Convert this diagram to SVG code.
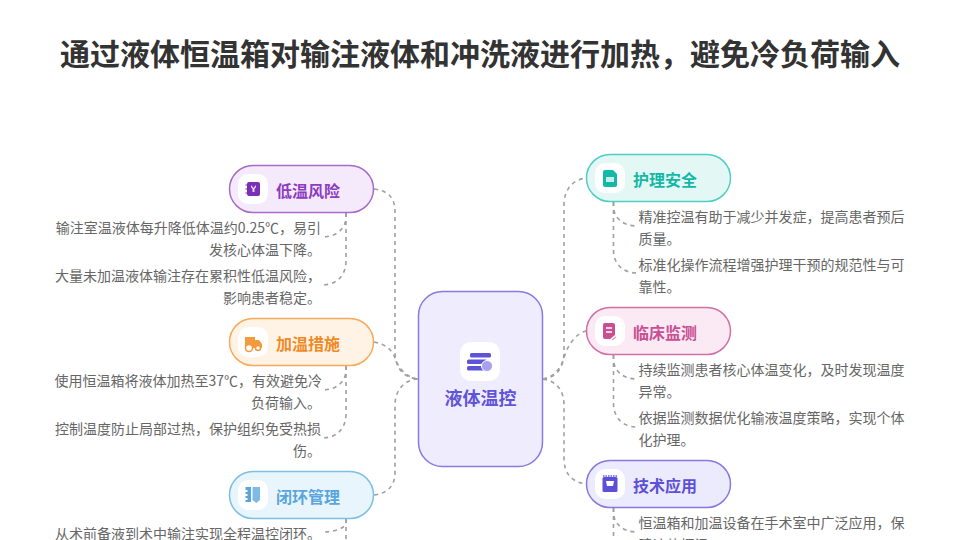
<svg xmlns="http://www.w3.org/2000/svg" width="960" height="540" viewBox="0 0 960 540">
<style>
text{font-family:"Noto Sans CJK SC","Noto Sans",sans-serif}
.title{font-size:30px;font-weight:700;fill:#333;text-anchor:middle}
.lab{font-size:16px;font-weight:700}
.b{font-size:14px;fill:#666}
.l{text-anchor:end}
.box{stroke-width:1.5}
.ic{fill:#fff}
#connectors path{fill:none;stroke:#a0a0a0;stroke-width:1.6;stroke-dasharray:4 4}
</style>
<rect width="960" height="540" fill="#fff"/>
<text class="title" x="480" y="65">通过液体恒温箱对输注液体和冲洗液进行加热，避免冷负荷输入</text>
<g id="connectors">
<path d="M374 189C388 191 395 197 395 212V352C395 368 404 378 418 379"/>
<path d="M374 342C386 344 392 350 395 358C399 370 408 378 418 379"/>
<path d="M374 495C388 493 395 486 395 472V405C395 390 404 380 418 379"/>
<path d="M543 379C556 378 564 368 564 352V205C564 190 572 180 586 178"/>
<path d="M543 379C553 377 560 370 564 358C567 346 576 333 586 331"/>
<path d="M543 379C556 381 564 390 564 405V458C564 474 572 482 586 484"/>
<path d="M346 213V217C346 229 336 237 322 237"/>
<path d="M346 213V261C346 276 336 285 322 285"/>
<path d="M346 366V370C346 382 336 390 322 390"/>
<path d="M346 366V414C346 429 336 438 322 438"/>
<path d="M346 519V522C346 528 336 532 322 532"/>
<path d="M346 519V570"/>
<path d="M613.500 202V206C613.500 218 623 226 637 226"/>
<path d="M613.500 202V250C613.500 264 623 273 637 273"/>
<path d="M613.500 355V359C613.500 371 623 379 637 379"/>
<path d="M613.500 355V403C613.500 418 623 427 637 427"/>
<path d="M613.500 508V512C613.500 524 623 532 637 532"/>
<path d="M613.500 508V570"/>
</g>
<g id="center">
<rect class="box" x="418.500" y="291.500" width="124" height="175" rx="24" fill="#eeecfd" stroke="#8a7be0"/>
<rect class="ic" x="460" y="342" width="40" height="39" rx="11"/>
<g fill="#5f54d8"><rect x="470" y="353" width="21" height="4.500" rx="1.500"/><rect x="467" y="359.500" width="20" height="4.500" rx="1.500"/><rect x="467" y="366" width="20" height="4.500" rx="1.500"/></g>
<circle cx="487" cy="366" r="5.500" fill="#a79ff0" stroke="#fff"/>
<text x="480.500" y="405" text-anchor="middle" font-size="18" font-weight="700" fill="#5f54d8">液体温控</text>
</g>
<g id="n-diwen">
<rect class="box" x="229.500" y="165.500" width="144" height="47" rx="23.500" fill="#f4eafc" stroke="#a66cc8"/>
<rect class="ic" x="238" y="174" width="30" height="30" rx="10"/>
<rect x="247" y="182" width="13" height="14" rx="2" fill="#7b2fb5"/>
<path d="M245.500 185h2M245.500 189h2M245.500 193h2" stroke="#7b2fb5"/>
<path d="M251 185l2.500 3 2.500-3v2l-1.500 2v3h-2v-3l-1.500-2z" fill="#e9d8f5"/>
<text class="lab" x="276" y="197" fill="#8e3bc0">低温风险</text>
<text class="b l" x="321" y="233">输注室温液体每升降低体温约0.25℃，易引</text>
<text class="b l" x="321" y="255">发核心体温下降。</text>
<text class="b l" x="321" y="281">大量未加温液体输注存在累积性低温风险，</text>
<text class="b l" x="321" y="303">影响患者稳定。</text>
</g>
<g id="n-jiawen">
<rect class="box" x="229.500" y="318.500" width="144" height="47" rx="23.500" fill="#fff3e6" stroke="#f5a959"/>
<rect class="ic" x="238" y="327" width="30" height="30" rx="10"/>
<path d="M245 337h10v3h4l3 4v4h-17z" fill="#f39a3c"/>
<circle cx="249" cy="348" r="3.500" fill="#fff" stroke="#f39a3c" stroke-width="1.500"/>
<circle cx="258" cy="348" r="2.500" fill="#fff" stroke="#f39a3c" stroke-width="1.500"/>
<text class="lab" x="276" y="350" fill="#f08a24">加温措施</text>
<text class="b l" x="322" y="386">使用恒温箱将液体加热至37℃，有效避免冷</text>
<text class="b l" x="321" y="408">负荷输入。</text>
<text class="b l" x="321" y="434">控制温度防止局部过热，保护组织免受热损</text>
<text class="b l" x="321" y="456">伤。</text>
</g>
<g id="n-bihuan">
<rect class="box" x="229.500" y="471.500" width="144" height="47" rx="23.500" fill="#e8f5fd" stroke="#7fbfe3"/>
<rect class="ic" x="238" y="480" width="30" height="30" rx="10"/>
<path d="M245.500 487h5.500v15h-5.500v-2h2v-2h-2v-2h2v-2h-2v-2h2v-2h-2z" fill="#5aa5dc"/>
<path d="M252.500 487h7.500v13l-3.700 3-3.800-3z" fill="#7dbbe6"/>
<text class="lab" x="276" y="503" fill="#5aa5dc">闭环管理</text>
<text class="b l" x="321" y="539">从术前备液到术中输注实现全程温控闭环。</text>
</g>
<g id="n-huli">
<rect class="box" x="586.500" y="154.500" width="144" height="47" rx="23.500" fill="#e3f8f5" stroke="#4fcdc4"/>
<rect class="ic" x="595" y="163" width="30" height="30" rx="10"/>
<path d="M605 170h8l4 4v11a2 2 0 0 1-2 2h-10a2 2 0 0 1-2-2v-13a2 2 0 0 1 2-2z" fill="#14b8a6"/>
<rect x="606" y="177" width="8" height="5" fill="#c8f0eb"/>
<text class="lab" x="633" y="186" fill="#14b8a6">护理安全</text>
<text class="b" x="638.500" y="222">精准控温有助于减少并发症，提高患者预后</text>
<text class="b" x="638.500" y="244">质量。</text>
<text class="b" x="638.500" y="270">标准化操作流程增强护理干预的规范性与可</text>
<text class="b" x="638.500" y="292">靠性。</text>
</g>
<g id="n-linchuang">
<rect class="box" x="586.500" y="307.500" width="144" height="47" rx="23.500" fill="#fbe9f4" stroke="#d070a8"/>
<rect class="ic" x="595" y="316" width="30" height="30" rx="10"/>
<path d="M605 323h8a2 2 0 0 1 2 2v10l-5 4h-5a2 2 0 0 1-2-2v-12a2 2 0 0 1 2-2z" fill="#c94f93"/>
<path d="M606 328h6M606 332h6" stroke="#fff" stroke-width="1.500"/>
<path d="M612 340l4-3" stroke="#e59ac7" stroke-width="1.500"/>
<text class="lab" x="633" y="339" fill="#c94f93">临床监测</text>
<text class="b" x="638.500" y="375">持续监测患者核心体温变化，及时发现温度</text>
<text class="b" x="638.500" y="397">异常。</text>
<text class="b" x="638.500" y="423">依据监测数据优化输液温度策略，实现个体</text>
<text class="b" x="638.500" y="445">化护理。</text>
</g>
<g id="n-jishu">
<rect class="box" x="586.500" y="460.500" width="144" height="47" rx="23.500" fill="#eceafd" stroke="#8878e0"/>
<rect class="ic" x="595" y="469" width="30" height="30" rx="10"/>
<rect x="602.500" y="477" width="15" height="15" rx="1.500" fill="#5b50d6"/>
<path d="M603 476h14" stroke="#8a80e6" stroke-width="2" stroke-dasharray="1.500 1"/>
<path d="M606 481h8l-1 5h-6z" fill="#fff"/>
<text class="lab" x="633" y="492" fill="#5b50d6">技术应用</text>
<text class="b" x="638.500" y="528">恒温箱和加温设备在手术室中广泛应用，保</text>
<text class="b" x="638.500" y="550">障液体恒温。</text>
</g>
</svg>
